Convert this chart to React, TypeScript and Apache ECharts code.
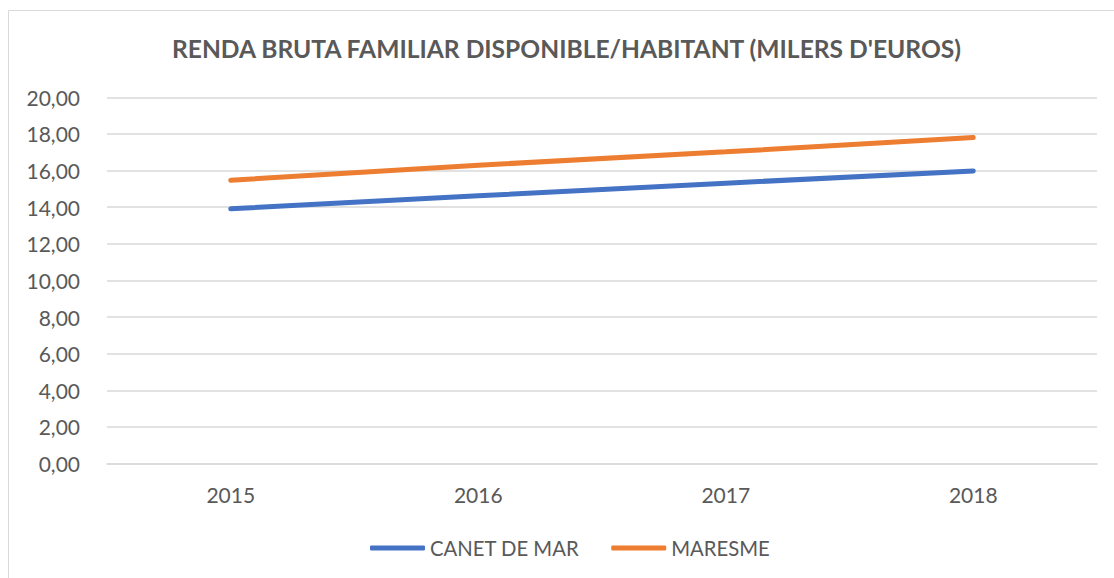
import React, { useEffect, useRef } from "react";
import * as echarts from "echarts";

const categories = ["2015", "2016", "2017", "2018"];
const canetValues = [13.91, 14.62, 15.31, 15.98];
const maresmeValues = [15.47, 16.29, 17.02, 17.8];
const seriesNames = ["CANET DE MAR", "MARESME"];
const titleText = "RENDA BRUTA FAMILIAR DISPONIBLE/HABITANT (MILERS D'EUROS)";

const FONT = "Lato, 'Open Sans', sans-serif";
const TEXT = "#595959";
const GRID = "#d9d9d9";
const BLUE = "#4472C4";
const ORANGE = "#ED7D31";

export default function App() {
  const ref = useRef<HTMLDivElement>(null);
  useEffect(() => {
    const chart = echarts.init(ref.current!, null, { renderer: "svg" });
    chart.setOption({
      animation: false,
      backgroundColor: "#ffffff",
      textStyle: { fontFamily: FONT },
      graphic: [
        {
          type: "rect",
          shape: { x: 8.5, y: 10.5, width: 1300, height: 800 },
          style: { fill: "none", stroke: GRID, lineWidth: 1 },
          silent: true,
          z: -1,
        },
        {
          type: "text",
          x: 566.5,
          y: 48,
          style: {
            text: titleText,
            textAlign: "center",
            textVerticalAlign: "middle",
            fill: TEXT,
            fontFamily: FONT,
            fontWeight: "bold",
            fontSize: 24.6,
          },
        },
      ],
      grid: { left: 107, right: 17, top: 97.3, bottom: 114.5, containLabel: false },
      xAxis: {
        type: "category",
        data: categories,
        boundaryGap: true,
        axisLine: { show: true, lineStyle: { color: GRID, width: 1.5 } },
        axisTick: { show: false },
        axisLabel: { color: TEXT, fontSize: 21, fontFamily: FONT, margin: 20 },
        splitLine: { show: false },
      },
      yAxis: {
        type: "value",
        min: 0,
        max: 20,
        interval: 2,
        axisLine: { show: false },
        axisTick: { show: false },
        axisLabel: {
          color: TEXT,
          fontSize: 21,
          fontFamily: FONT,
          margin: 27,
          formatter: (v: number) => v.toFixed(2).replace(".", ","),
        },
        splitLine: { lineStyle: { color: GRID, width: 1.5 } },
      },
      legend: {
        data: seriesNames.map((n) => ({ name: n, icon: "roundRect" })),
        left: 365,
        top: 533,
        itemWidth: 55,
        itemHeight: 5,
        itemGap: 32,
        textStyle: { color: TEXT, fontSize: 20.3, fontFamily: FONT },
      },
      series: [
        {
          name: seriesNames[0],
          type: "line",
          data: canetValues,
          symbol: "none",
          color: BLUE,
          itemStyle: { color: BLUE },
          lineStyle: { width: 5, color: BLUE, cap: "round" },
        },
        {
          name: seriesNames[1],
          type: "line",
          data: maresmeValues,
          symbol: "none",
          color: ORANGE,
          itemStyle: { color: ORANGE },
          lineStyle: { width: 5, color: ORANGE, cap: "round" },
        },
      ],
    });
    return () => chart.dispose();
  }, []);
  return (
    <div
      ref={ref}
      style={{ position: "fixed", left: 0, top: 0, width: 1114, height: 578, background: "#fff" }}
    />
  );
}
